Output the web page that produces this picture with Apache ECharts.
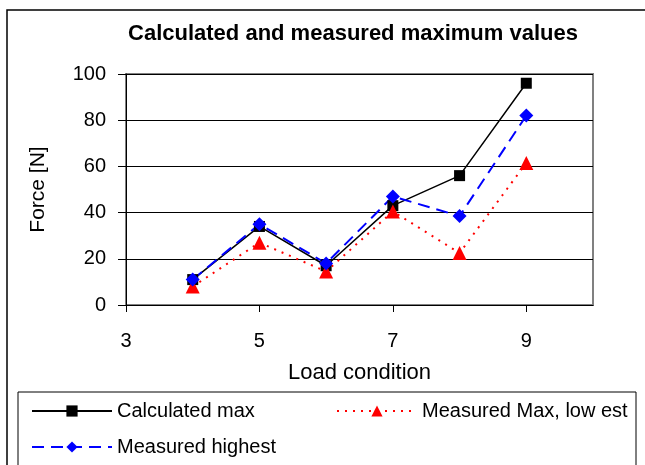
<!DOCTYPE html>
<html><head><meta charset="utf-8">
<script src="https://cdn.jsdelivr.net/npm/echarts@6/dist/echarts.min.js"></script>
<style>html,body{margin:0;padding:0;background:#fff;}#c{width:645px;height:465px;}</style>
</head><body><div id="c"></div>
<script>
const loadConditions = [4, 5, 6, 7, 8, 9];
const calculatedMax = [11, 34, 17, 43, 56, 96];
const measuredLowest = [8, 27, 14.5, 40.5, 22.5, 61.5];
const measuredHighest = [11, 35, 18, 47, 38.5, 82];
const seriesNames = ['Calculated max', 'Measured Max, low est', 'Measured highest'];

const pairs = arr => loadConditions.map((x, i) => [x, arr[i]]);
const FONT = 'Liberation Sans, Arial, sans-serif';
const chart = echarts.init(document.getElementById('c'), null, {renderer: 'canvas'});
const legendText = {fontFamily: FONT, fontSize: 20, color: '#000'};
chart.setOption({
  animation: false,
  backgroundColor: '#fff',
  title: {text: 'Calculated and measured maximum values', left: 348, top: 18, textAlign: 'center',
    textStyle: {fontFamily: FONT, fontSize: 22, fontWeight: 'bold', color: '#000'}},
  graphic: [
    {type: 'rect', shape: {x: 7, y: 10, width: 700, height: 500}, style: {fill: null, stroke: '#000', lineWidth: 1.5}, z: -1},
    {type: 'rect', shape: {x: 18, y: 392, width: 618, height: 100}, style: {fill: null, stroke: '#000', lineWidth: 1}, z: -1}
  ],
  grid: {left: 126, right: 52, top: 74, bottom: 160, show: true, borderColor: '#808080', borderWidth: 2, backgroundColor: 'transparent'},
  xAxis: {type: 'value', min: 3, max: 10, interval: 2,
    name: 'Load condition', nameLocation: 'middle', nameGap: 57,
    nameTextStyle: {fontFamily: FONT, fontSize: 22, color: '#000'},
    axisLine: {lineStyle: {color: '#000', width: 1}},
    axisTick: {show: true, length: 7, lineStyle: {color: '#000'}},
    axisLabel: {fontFamily: FONT, fontSize: 20, color: '#000', margin: 26, showMaxLabel: false},
    splitLine: {show: false}},
  yAxis: {type: 'value', min: 0, max: 100, interval: 20,
    name: 'Force [N]', nameLocation: 'middle', nameGap: 77,
    nameTextStyle: {fontFamily: FONT, fontSize: 21, color: '#000'},
    axisLine: {show: true, lineStyle: {color: '#000', width: 1}},
    axisTick: {show: true, length: 8, lineStyle: {color: '#000'}},
    axisLabel: {fontFamily: FONT, fontSize: 20, color: '#000', margin: 20},
    splitLine: {show: true, lineStyle: {color: '#000', width: 1}}},
  legend: [
    {data: [seriesNames[0]], left: 26, top: 396, itemWidth: 80, itemHeight: 14, itemGap: 7, textStyle: legendText},
    {data: [seriesNames[1]], left: 331, top: 396, itemWidth: 80, itemHeight: 14, itemGap: 7, textStyle: legendText},
    {data: [seriesNames[2]], left: 26, top: 432, itemWidth: 80, itemHeight: 14, itemGap: 7, textStyle: legendText}
  ],
  series: [
    {name: seriesNames[0], type: 'line', data: pairs(calculatedMax), symbol: 'rect', symbolSize: 11,
      itemStyle: {color: '#000'}, lineStyle: {color: '#000', width: 1.5, type: 'solid'}},
    {name: seriesNames[1], type: 'line', data: pairs(measuredLowest), symbol: 'triangle', symbolSize: 14,
      itemStyle: {color: '#ff0000'}, lineStyle: {color: '#ff0000', width: 2, type: [2, 6]}},
    {name: seriesNames[2], type: 'line', data: pairs(measuredHighest), symbol: 'diamond', symbolSize: 14,
      itemStyle: {color: '#0000ff'}, lineStyle: {color: '#0000ff', width: 2, type: [12, 7]}}
  ]
});
</script></body></html>
